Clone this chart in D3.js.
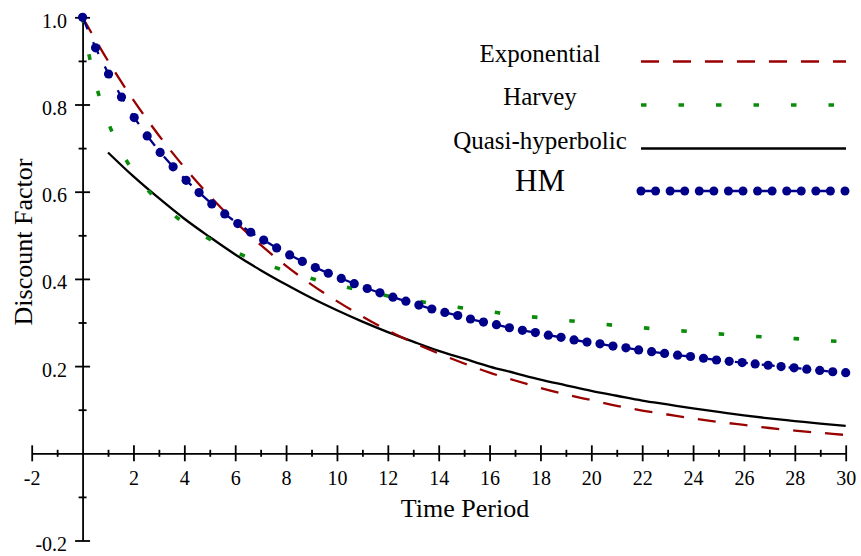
<!DOCTYPE html>
<html>
<head>
<meta charset="utf-8">
<script src="https://cdn.jsdelivr.net/npm/d3@7"></script>
<style>
  body { margin: 0; background: #fff; }
  svg { display: block; font-family: "Liberation Serif", "Times New Roman", serif; }
</style>
</head>
<body>
<div id="chartPlaceholder"></div>
<script>
// values
const expT = [0, 1, 2, 3, 4, 5, 6, 7, 8, 9, 10, 11, 12, 13, 14, 15, 16, 17, 18, 19, 20, 21, 22, 23, 24, 25, 26, 27, 28, 29, 30];
const expValues = [1.0, 0.9, 0.81, 0.729, 0.656, 0.59, 0.531, 0.478, 0.43, 0.387, 0.349, 0.314, 0.282, 0.254, 0.229, 0.206,
  0.185, 0.167, 0.15, 0.135, 0.122, 0.109, 0.098, 0.089, 0.08, 0.072, 0.065, 0.058, 0.052, 0.047, 0.042];

const harveyT = [0, 0.25, 0.5, 0.75, 1, 1.5, 2, 2.5, 3, 4, 5, 6, 7, 8, 9, 10, 11, 12, 13, 14, 15, 16, 17, 18, 19, 20, 21, 22, 23, 24, 25, 26, 27, 28, 29, 30];
const harveyValues = [1.0, 0.915, 0.851, 0.801, 0.76, 0.695, 0.646, 0.608, 0.577, 0.528, 0.491, 0.462, 0.438, 0.418, 0.401, 0.386,
  0.373, 0.361, 0.351, 0.341, 0.333, 0.325, 0.317, 0.311, 0.305, 0.299, 0.293, 0.288, 0.283, 0.279, 0.274, 0.27, 0.266, 0.263, 0.259, 0.256];

const quasiT = [1, 2, 3, 4, 5, 6, 7, 8, 9, 10, 11, 12, 13, 14, 15, 16, 17, 18, 19, 20, 21, 22, 23, 24, 25, 26, 27, 28, 29, 30];
const quasiValues = [0.69, 0.635, 0.585, 0.538, 0.496, 0.456, 0.42, 0.387, 0.356, 0.328, 0.302, 0.278, 0.256, 0.235, 0.217,
  0.199, 0.184, 0.169, 0.156, 0.143, 0.132, 0.121, 0.112, 0.103, 0.095, 0.087, 0.08, 0.074, 0.068, 0.063];

const hmT = [0, 0.51, 1.02, 1.53, 2.03, 2.54, 3.05, 3.56, 4.07, 4.58, 5.08, 5.59, 6.1, 6.61, 7.12, 7.63, 8.14, 8.64, 9.15, 9.66,
  10.17, 10.68, 11.19, 11.69, 12.2, 12.71, 13.22, 13.73, 14.24, 14.75, 15.25, 15.76, 16.27, 16.78, 17.29, 17.8, 18.31, 18.81, 19.32, 19.83,
  20.34, 20.85, 21.36, 21.86, 22.37, 22.88, 23.39, 23.9, 24.41, 24.92, 25.42, 25.93, 26.44, 26.95, 27.46, 27.97, 28.47, 28.98, 29.49, 30.0];
const hmValues = [1.0, 0.93, 0.87, 0.817, 0.77, 0.728, 0.69, 0.657, 0.626, 0.598, 0.572, 0.549, 0.527, 0.507, 0.489, 0.471, 0.455, 0.44, 0.426, 0.413,
  0.401, 0.389, 0.378, 0.368, 0.358, 0.349, 0.34, 0.331, 0.323, 0.316, 0.308, 0.301, 0.295, 0.288, 0.282, 0.277, 0.271, 0.266, 0.26, 0.255,
  0.251, 0.246, 0.242, 0.237, 0.233, 0.229, 0.225, 0.222, 0.218, 0.214, 0.211, 0.208, 0.205, 0.202, 0.199, 0.196, 0.193, 0.19, 0.187, 0.185];

const xTickLabels = [-2, 2, 4, 6, 8, 10, 12, 14, 16, 18, 20, 22, 24, 26, 28, 30];
const xMinorTicks = [-1, 1, 3, 5, 7, 9, 11, 13, 15, 17, 19, 21, 23, 25, 27, 29];
const yTickLabels = [-0.2, 0.2, 0.4, 0.6, 0.8, 1.0];
const yMinorTicks = [-0.1, 0.1, 0.3, 0.5, 0.7, 0.9];
const seriesNames = ["Exponential", "Harvey", "Quasi-hyperbolic", "HM"];

const zip = (ts, vs) => ts.map((t, i) => ({ t: t, v: vs[i] }));

const width = 861,
  height = 556;

const svg = d3
  .select("#chartPlaceholder")
  .append("svg")
  .attr("width", width)
  .attr("height", height);

// scales
const x = d3.scaleLinear().domain([-2, 30]).range([31.7, 845.7]);
const y = d3.scaleLinear().domain([-0.2, 1.0]).range([540.5, 17.3]);

// X axis, ticks cross the line
const xAxis = svg
  .append("g")
  .attr("transform", `translate(0, ${y(0)})`)
  .call(d3.axisBottom(x).tickValues(xTickLabels).tickSize(8).tickSizeOuter(0).tickFormat((d) => String(d)));
xAxis.selectAll(".tick line").attr("y1", -8).attr("y2", 8);
xAxis.selectAll(".tick text").attr("y", 31.7).attr("dy", null).style("font-size", "20px");

const xMinor = svg
  .append("g")
  .attr("transform", `translate(0, ${y(0)})`)
  .call(d3.axisBottom(x).tickValues(xMinorTicks).tickSize(3.5).tickFormat(""));
xMinor.select(".domain").remove();
xMinor.selectAll(".tick line").attr("y1", -3.5);

// Y axis
const yAxis = svg
  .append("g")
  .attr("transform", `translate(${x(0)}, 0)`)
  .call(d3.axisLeft(y).tickValues(yTickLabels).tickSize(7.5).tickSizeOuter(0).tickFormat((d) => d.toFixed(1)));
yAxis.selectAll(".tick line").attr("x1", 7.5).attr("x2", -7.5);
yAxis.selectAll(".tick text").attr("x", -15.5).attr("dy", "0.5em").style("font-size", "20px");

const yMinor = svg
  .append("g")
  .attr("transform", `translate(${x(0)}, 0)`)
  .call(d3.axisLeft(y).tickValues(yMinorTicks).tickSize(4).tickFormat(""));
yMinor.select(".domain").remove();
yMinor.selectAll(".tick line").attr("x1", 4);

svg.selectAll(".domain, .tick line").attr("stroke", "#000").attr("stroke-width", 1.8);
svg.selectAll(".tick text").attr("fill", "#000").style("font-family", "'Liberation Serif', 'Times New Roman', serif");

// axis titles
svg
  .append("text")
  .attr("x", 465)
  .attr("y", 517)
  .attr("text-anchor", "middle")
  .style("font-size", "26px")
  .text("Time Period");

svg
  .append("text")
  .attr("transform", "translate(32, 242) rotate(-90)")
  .attr("text-anchor", "middle")
  .style("font-size", "26px")
  .text("Discount Factor");

// curves
const smoothLine = d3
  .line()
  .x((d) => x(d.t))
  .y((d) => y(d.v))
  .curve(d3.curveMonotoneX);

const straightLine = d3
  .line()
  .x((d) => x(d.t))
  .y((d) => y(d.v));

const series = [
  { name: seriesNames[2], data: zip(quasiT, quasiValues), color: "#000", width: 2.3, dash: null },
  { name: seriesNames[0], data: zip(expT, expValues), color: "#990000", width: 2.3, dash: "18,14" },
  { name: seriesNames[1], data: zip(harveyT, harveyValues), color: "#0a8c0a", width: 3.6, dash: "5.5,32" },
];

svg
  .selectAll(".curve")
  .data(series)
  .join("path")
  .attr("class", "curve")
  .attr("d", (d) => smoothLine(d.data))
  .attr("fill", "none")
  .attr("stroke", (d) => d.color)
  .attr("stroke-width", (d) => d.width)
  .attr("stroke-dasharray", (d) => d.dash);

// HM: dashed line with round markers
const hmData = zip(hmT, hmValues);
const hmColor = "#000088";
svg
  .append("path")
  .attr("d", straightLine(hmData))
  .attr("fill", "none")
  .attr("stroke", hmColor)
  .attr("stroke-width", 2.3)
  .attr("stroke-dasharray", "13,14");

svg
  .selectAll(".hm-dot")
  .data(hmData)
  .join("circle")
  .attr("class", "hm-dot")
  .attr("cx", (d) => x(d.t))
  .attr("cy", (d) => y(d.v))
  .attr("r", 4.6)
  .attr("fill", hmColor);

// legend
const legendRows = [
  { name: seriesNames[0], y: 61.5, size: 25, color: "#990000", width: 2.3, dash: "18,14" },
  { name: seriesNames[1], y: 105, size: 25, color: "#0a8c0a", width: 3.6, dash: "5.5,32" },
  { name: seriesNames[2], y: 148.5, size: 25, color: "#000", width: 2.7, dash: null },
  { name: seriesNames[3], y: 191, size: 31, color: hmColor, width: 2.3, dash: "13,16" },
];

const legend = svg.append("g");

legend
  .selectAll("text")
  .data(legendRows)
  .join("text")
  .attr("x", 540)
  .attr("y", (d) => d.y)
  .attr("text-anchor", "middle")
  .style("font-size", (d) => d.size + "px")
  .text((d) => d.name);

legend
  .selectAll("line")
  .data(legendRows)
  .join("line")
  .attr("x1", 641)
  .attr("x2", 846)
  .attr("y1", (d) => d.y)
  .attr("y2", (d) => d.y)
  .attr("stroke", (d) => d.color)
  .attr("stroke-width", (d) => d.width)
  .attr("stroke-dasharray", (d) => d.dash);

legend
  .selectAll("circle")
  .data(d3.range(15))
  .join("circle")
  .attr("cx", (i) => 641 + i * 14.57)
  .attr("cy", 191)
  .attr("r", 4.5)
  .attr("fill", hmColor);
</script>
</body>
</html>
